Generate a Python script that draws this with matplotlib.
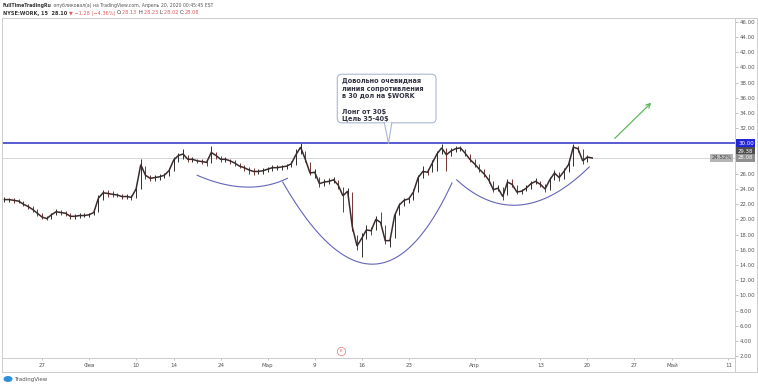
import matplotlib
matplotlib.use('Agg')
import matplotlib.pyplot as plt
import numpy as np
import matplotlib.transforms as mtransforms
from matplotlib.patches import FancyBboxPatch, Polygon, FancyArrowPatch, Ellipse
from matplotlib.lines import Line2D

plt.rcParams['font.family'] = ['DejaVu Sans']

# ---------------- data (half trading-day samples, starting 21 Jan 2020) ----------------
t_first = -4.0          # trading-day index of first sample (0 = 27 Jan)
t_step = 0.5
closes = [22.6, 22.6, 22.5, 22.4, 22.0, 21.7, 21.3, 20.8, 20.3, 20.1,
          20.6, 21.0, 20.9, 20.8, 20.4, 20.4, 20.5, 20.5, 20.6, 20.9,
          22.8, 23.5, 23.4, 23.3, 23.2, 23.0, 23.0, 22.9, 24.0, 27.2,
          25.8, 25.4, 25.5, 25.6, 25.8, 26.4, 27.8, 28.4, 28.6, 27.9,
          27.9, 27.7, 27.6, 27.5, 28.8, 28.4, 27.9, 27.9, 27.7, 27.4,
          27.0, 26.8, 26.5, 26.3, 26.3, 26.4, 26.6, 26.8, 26.8, 26.9,
          27.0, 27.3, 28.5, 29.5, 27.9, 26.1, 26.2, 24.7, 24.9, 25.0,
          25.2, 24.5, 23.1, 23.7, 19.0, 16.5, 17.5, 18.6, 18.5, 20.0,
          19.6, 17.2, 17.2, 20.5, 21.9, 22.5, 22.7, 23.6, 25.5, 26.3,
          26.2, 27.4, 28.6, 29.4, 28.5, 29.0, 29.3, 29.4, 28.7, 27.9,
          27.3, 26.6, 26.0, 25.2, 23.9, 24.1, 23.0, 24.9, 24.6, 23.6,
          23.7, 24.1, 24.7, 25.0, 24.6, 24.0, 25.2, 26.1, 25.5, 26.3,
          27.2, 29.5, 29.3, 27.7, 28.2, 28.08]
highs = [22.9, 22.8, 22.8, 22.7, 22.4, 22.0, 21.7, 21.3, 20.8, 20.5,
         20.9, 21.3, 21.2, 21.1, 20.8, 20.7, 20.8, 20.8, 20.9, 21.3,
         23.2, 23.9, 23.8, 23.7, 23.5, 23.4, 23.3, 23.2, 24.5, 27.9,
         27.0, 25.9, 25.8, 26.0, 26.1, 26.8, 28.2, 28.7, 29.2, 28.5,
         28.2, 28.0, 27.9, 27.8, 29.6, 28.9, 28.4, 28.2, 28.0, 27.8,
         27.4, 27.1, 26.9, 26.7, 26.6, 26.7, 26.9, 27.1, 27.1, 27.2,
         27.3, 27.7, 29.2, 30.1, 29.0, 27.5, 26.6, 25.6, 25.3, 25.4,
         25.6, 25.2, 24.2, 24.1, 23.6, 18.0, 18.2, 19.3, 19.0, 20.5,
         21.0, 19.3, 17.6, 20.9, 22.2, 22.8, 23.0, 24.0, 25.9, 27.0,
         26.6, 27.8, 29.0, 29.9, 29.4, 29.4, 29.6, 29.7, 29.3, 28.6,
         27.9, 27.3, 26.6, 26.0, 25.1, 24.5, 24.2, 25.3, 25.3, 24.5,
         24.0, 24.5, 25.0, 25.4, 25.1, 24.6, 25.6, 26.5, 26.2, 26.7,
         27.6, 29.9, 29.7, 29.2, 28.5, 28.23]
lows = [22.3, 22.3, 22.2, 22.1, 21.8, 21.4, 21.0, 20.5, 20.0, 19.9,
        20.0, 20.6, 20.6, 20.4, 20.1, 20.1, 20.2, 20.3, 20.3, 20.6,
        21.0, 22.6, 23.0, 23.0, 22.9, 22.7, 22.7, 22.6, 22.8, 24.0,
        25.3, 25.0, 25.1, 25.2, 25.4, 25.7, 26.3, 27.6, 28.0, 27.6,
        27.5, 27.4, 27.3, 27.0, 27.4, 28.0, 27.5, 27.5, 27.3, 27.0,
        26.7, 26.3, 26.0, 25.8, 26.0, 26.0, 26.2, 26.4, 26.5, 26.5,
        26.6, 26.9, 27.2, 28.6, 27.5, 25.8, 25.5, 24.3, 24.4, 24.6,
        24.8, 24.0, 21.0, 23.2, 18.5, 16.0, 15.1, 17.4, 18.0, 18.6,
        19.2, 16.8, 16.3, 17.5, 20.6, 21.8, 22.2, 22.6, 23.6, 25.5,
        25.8, 26.2, 26.3, 28.6, 26.3, 28.4, 28.9, 29.0, 28.3, 27.5,
        26.9, 26.2, 25.6, 24.8, 23.6, 23.7, 22.6, 23.2, 24.2, 23.3,
        23.3, 23.7, 24.0, 24.6, 24.2, 23.6, 23.9, 25.2, 25.0, 25.3,
        26.2, 27.0, 28.8, 27.3, 27.6, 28.02]

tick_pos = [0, 5, 10, 14, 19, 24, 29, 34, 39, 46, 53, 58, 63, 67, 73]
tick_labels = ['27', 'Фев', '10', '14', '24', 'Мар', '9', '16', '23',
               'Апр', '13', '20', '27', 'Май', '11']
price_ticks = [2, 4, 6, 8, 10, 12, 14, 16, 18, 20, 22, 24, 26, 28, 30,
               32, 34, 36, 38, 40, 42, 44, 46]
hidden_price_ticks = [28, 30]   # covered by the price tags in the reference
resistance = 30.0
last_price = 28.08
prev_close_label = 29.38
pct_label = '24.52%'

# drawn cup arcs: (start, bottom, end) in (trading day, price)
arc_small_left = [(16.5, 25.8), (21.6, 24.25), (26.1, 25.4)]
arc_big = [(25.6, 24.9), (35.1, 14.1), (43.6, 24.8)]
arc_small_right = [(44.1, 25.2), (50.9, 21.9), (58.2, 26.9)]
arrow_pts = [(60.7, 30.4), (65.0, 35.6)]
callout_text = ("Довольно очевидная\nлиния сопротивления\nв 30 дол на $WORK\n\n"
                "Лонг от 30$\nЦель 35-40$")

# ---------------- figure ----------------
W, H = 758, 386
fig = plt.figure(figsize=(W / 100, H / 100), dpi=100)
fig.patch.set_facecolor('white')

def fx(px):
    return px / W

def fy(py):
    return 1 - py / H

ax_l, ax_r, ax_t, ax_b = 2, 735, 18, 358
ax = fig.add_axes([fx(ax_l), fy(ax_b), (ax_r - ax_l) / W, (ax_b - ax_t) / H])
ax.set_xlim(-4.26, 73.7)
ax.set_ylim(1.75, 46.5)
for s in ax.spines.values():
    s.set_visible(False)

t = t_first + t_step * np.arange(len(closes))
closes_a = np.array(closes)
prev = np.concatenate([[closes_a[0]], closes_a[:-1]])
wick_cols = np.where(closes_a >= prev, '#2e2e2e', '#7a3535')
ax.vlines(t, lows, highs, colors=wick_cols, lw=0.7, zorder=3)
ax.plot(t, closes, color='#3a2c2c', lw=1.1, zorder=4, solid_joinstyle='miter')

# resistance and last price lines
ax.axhline(resistance, color='#3b3fc9', lw=1.2, zorder=5)
ax.axhline(last_price, color='#cfcfcf', lw=0.6, zorder=2)

# arcs (quadratic Bezier passing through the bottom point)
def bez(p):
    p0, m, p2 = np.array(p[0]), np.array(p[1]), np.array(p[2])
    c = 2 * m - (p0 + p2) / 2
    u = np.linspace(0, 1, 80)[:, None]
    return (1 - u) ** 2 * p0 + 2 * (1 - u) * u * c + u ** 2 * p2

for arc in (arc_small_left, arc_big, arc_small_right):
    b = bez(arc)
    ax.plot(b[:, 0], b[:, 1], color='#6465b8', lw=0.8, zorder=5)

# green arrow
ax.add_patch(FancyArrowPatch(arrow_pts[0], arrow_pts[1], arrowstyle='->,head_length=3,head_width=1.6',
                             color='#5cb85c', lw=0.9, zorder=6))

# callout
bx0, bx1, by0, by1 = 31.4, 41.9, 32.7, 39.1
box = FancyBboxPatch((bx0, by0), bx1 - bx0, by1 - by0,
                     boxstyle='round,pad=0,rounding_size=0.5', mutation_aspect=1.2,
                     fc='white', ec='#a9b6d3', lw=0.8, zorder=7)
ax.add_patch(box)
tip = [(36.4, by0 + 0.05), (36.85, resistance), (37.2, by0 + 0.05)]
ax.add_patch(Polygon(tip, closed=True, fc='white', ec='none', zorder=8))
ax.plot([tip[0][0], tip[1][0], tip[2][0]], [tip[0][1], tip[1][1], tip[2][1]],
        color='#a9b6d3', lw=0.8, zorder=8)
ax.text(31.95, 38.6, callout_text, fontsize=4.7, fontweight='bold', color='#333344',
        va='top', ha='left', linespacing=1.32, zorder=9)

# earnings marker
ax.plot([31.8], [2.7], 'o', ms=6, mfc='white', mec='#e58a8a', mew=0.6, zorder=6, clip_on=False)
ax.text(31.8, 2.7, 'E', fontsize=3, color='#e06060', ha='center', va='center', zorder=7)

# x axis
ax.set_xticks(tick_pos)
ax.set_xticklabels(tick_labels)
ax.tick_params(axis='x', length=1.5, width=0.5, color='#aaaaaa', pad=2.2,
               labelsize=4, labelcolor='#555555')
# y axis at right
ax.yaxis.tick_right()
ax.set_yticks(price_ticks)
ax.set_yticklabels(['' if v in hidden_price_ticks else f'{v:.2f}' for v in price_ticks])
ax.tick_params(axis='y', length=2, width=0.5, color='#aaaaaa', pad=1.5,
               labelsize=3.9, labelcolor='#555555')

trans = mtransforms.blended_transform_factory(ax.transAxes, ax.transData)
def plabel(y, s, fc, tc, dy=0):
    ax.annotate(s, xy=(1.0, y), xycoords=trans, xytext=(2.2, dy), textcoords='offset points',
                fontsize=3.9, color=tc, va='center', ha='left', zorder=20, annotation_clip=False,
                bbox=dict(boxstyle='square,pad=0.3', fc=fc, ec='none'))

plabel(resistance, f'{resistance:.2f}', '#2326d8', 'white')
plabel(resistance, f'{prev_close_label:.2f}', '#4d4d4d', 'white', dy=-5.6)
plabel(last_price, f'{last_price:.2f}', '#8f8f8f', 'white')
ax.annotate(pct_label, xy=(1.0, last_price), xycoords=trans, xytext=(-2.5, 0),
            textcoords='offset points', fontsize=3.9, color='#444444', va='center', ha='right',
            zorder=20, annotation_clip=False,
            bbox=dict(boxstyle='square,pad=0.3', fc='#b5b5b5', ec='none'))

# frame lines (figure pixels)
fcol = '#cccccc'
def fline(x0, y0, x1, y1):
    fig.add_artist(Line2D([fx(x0), fx(x1)], [fy(y0), fy(y1)], color=fcol, lw=0.7,
                          transform=fig.transFigure))
fline(2, 18, 757, 18)
fline(2, 18, 2, 372)
fline(735, 18, 735, 372)
fline(757, 18, 757, 372)
fline(2, 358, 735, 358)
fline(2, 372, 757, 372)

# header texts
renderer = fig.canvas.get_renderer()
def seq_text(x_px, y_px, parts, size):
    x = fx(x_px)
    for s, col, w in parts:
        tx = fig.text(x, fy(y_px), s, fontsize=size, color=col, fontweight=w,
                      va='center', ha='left')
        bb = tx.get_window_extent(renderer=renderer)
        x += bb.width / W

seq_text(3, 5, [('FullTimeTradingRu', '#333333', 'bold'),
                (' опубликовал(а) на TradingView.com, Апрель 20, 2020 00:45:45 EST', '#555555', 'normal')],
         3.3)
red = '#e05a5a'
seq_text(3, 13, [('NYSE:WORK, 15  28.10 ', '#333333', 'bold'),
                 ('▼ −1.28 (−4.36%) ', red, 'normal'),
                 ('O:', '#333333', 'normal'), ('28.13 ', red, 'normal'),
                 ('H:', '#333333', 'normal'), ('28.23 ', red, 'normal'),
                 ('L:', '#333333', 'normal'), ('28.02 ', red, 'normal'),
                 ('C:', '#333333', 'normal'), ('28.08', red, 'normal')],
         3.6)

# TradingView logo
fig.add_artist(Ellipse((fx(8), fy(379)), 9 / W, 6 / H, transform=fig.transFigure,
                       fc='#2f8fd8', ec='none'))
fig.text(fx(14), fy(379), 'TradingView', fontsize=4, color='#555555', va='center', ha='left')

fig.savefig('out.png', dpi=100)
